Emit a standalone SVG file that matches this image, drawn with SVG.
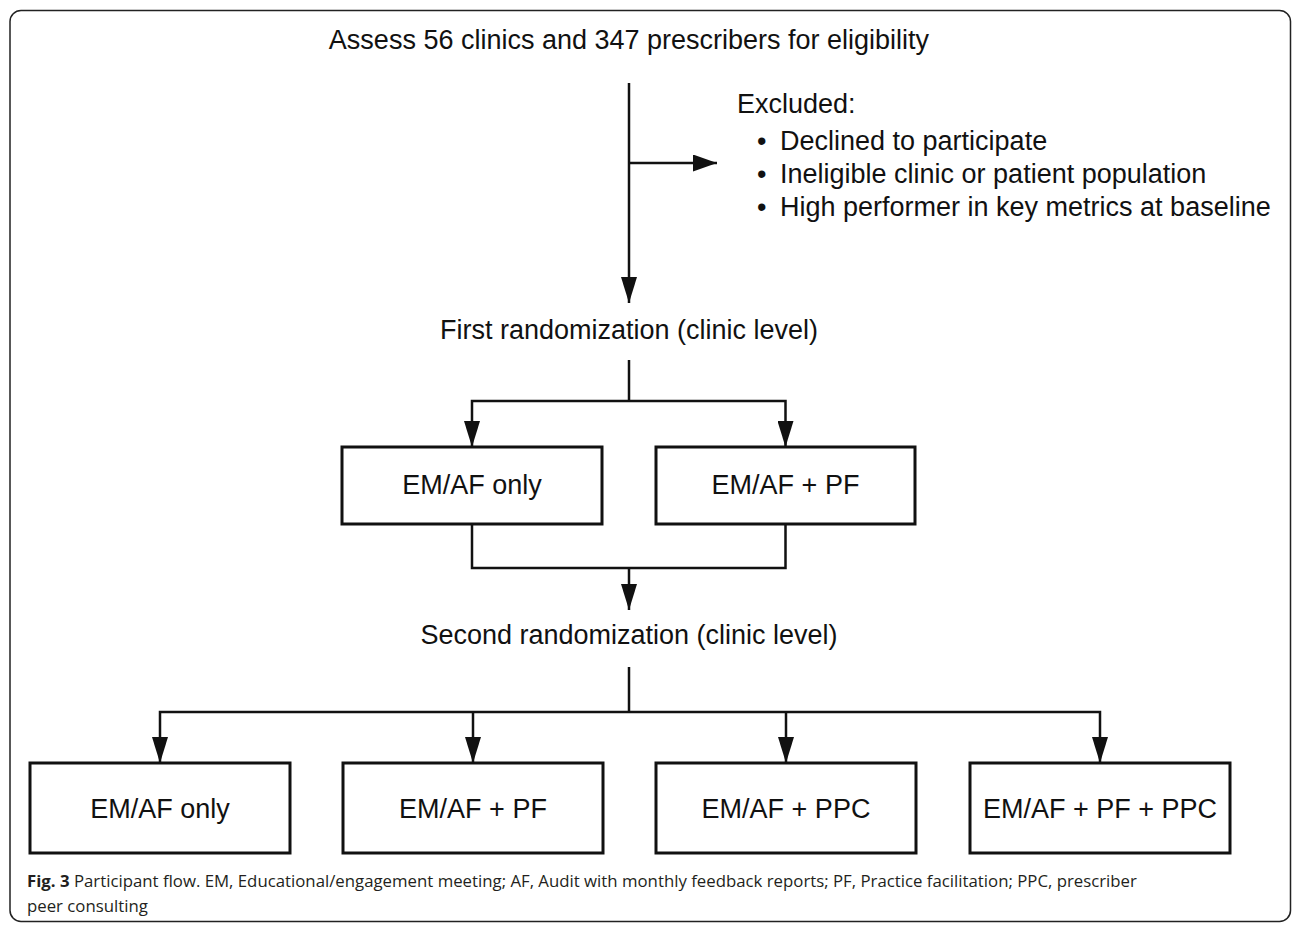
<svg xmlns="http://www.w3.org/2000/svg" width="1292" height="925" viewBox="0 0 1292 925">
<style>
.t{font-family:"Liberation Sans",Arial,sans-serif;font-size:27px;fill:#111}
.c{text-anchor:middle}
.box{fill:#fff;stroke:#111;stroke-width:3}
.ln{fill:none;stroke:#111;stroke-width:2.5}
.cap{font-family:"Open Sans","Noto Sans",sans-serif;font-size:16.8px;fill:#231f20}
</style>
<defs>
<marker id="ah" viewBox="0 0 26 16" refX="26" refY="8" markerWidth="26" markerHeight="16" markerUnits="userSpaceOnUse" orient="auto">
<path d="M0,0 L26,8 L0,16 z" fill="#111"/>
</marker>
<marker id="ahs" viewBox="0 0 24 17" refX="24" refY="8.5" markerWidth="24" markerHeight="17" markerUnits="userSpaceOnUse" orient="auto">
<path d="M0,0 L24,8.5 L0,17 z" fill="#111"/>
</marker>
</defs>
<rect x="0" y="0" width="1292" height="925" fill="#fff"/>
<rect x="10" y="10.5" width="1280.5" height="911" rx="11" ry="11" fill="none" stroke="#222" stroke-width="1.5"/>

<g id="assess"><text class="t c" x="629" y="49">Assess 56 clinics and 347 prescribers for eligibility</text></g>
<g id="excluded">
<text class="t" x="737" y="113">Excluded:</text>
<text class="t" x="757" y="150">•</text><text class="t" x="780" y="150">Declined to participate</text>
<text class="t" x="757" y="183">•</text><text class="t" x="780" y="183">Ineligible clinic or patient population</text>
<text class="t" x="757" y="216">•</text><text class="t" x="780" y="216">High performer in key metrics at baseline</text>
</g>
<g id="rand1"><text class="t c" x="629" y="339">First randomization (clinic level)</text></g>
<g id="l1a"><rect class="box" x="342" y="447" width="260" height="77"/><text class="t c" x="472" y="494">EM/AF only</text></g>
<g id="l1b"><rect class="box" x="656" y="447" width="259" height="77"/><text class="t c" x="785.5" y="494">EM/AF + PF</text></g>
<g id="rand2"><text class="t c" x="629" y="644">Second randomization (clinic level)</text></g>
<g id="l2a"><rect class="box" x="30" y="763" width="260" height="90"/><text class="t c" x="160" y="818">EM/AF only</text></g>
<g id="l2b"><rect class="box" x="343" y="763" width="260" height="90"/><text class="t c" x="473" y="818">EM/AF + PF</text></g>
<g id="l2c"><rect class="box" x="656" y="763" width="260" height="90"/><text class="t c" x="786" y="818">EM/AF + PPC</text></g>
<g id="l2d"><rect class="box" x="970" y="763" width="260" height="90"/><text class="t c" x="1100" y="818">EM/AF + PF + PPC</text></g>

<g id="connectors">
<path class="ln" d="M629,83 V303" marker-end="url(#ah)"/>
<path class="ln" d="M629,163 H717" marker-end="url(#ahs)"/>
<path class="ln" d="M629,360 V401"/>
<path class="ln" d="M629,401 H472 V447" marker-end="url(#ah)"/>
<path class="ln" d="M629,401 H785.5 V447" marker-end="url(#ah)"/>
<path class="ln" d="M472,524 V568 H785.5 V524"/>
<path class="ln" d="M629,568 V610" marker-end="url(#ah)"/>
<path class="ln" d="M629,667 V712"/>
<path class="ln" d="M629,712 H160 V763" marker-end="url(#ah)"/>
<path class="ln" d="M473,712 V763" marker-end="url(#ah)"/>
<path class="ln" d="M629,712 H1100 V763" marker-end="url(#ah)"/>
<path class="ln" d="M786,712 V763" marker-end="url(#ah)"/>
</g>

<g id="caption">
<text class="cap" x="27" y="887"><tspan font-weight="bold">Fig. 3</tspan> Participant flow. EM, Educational/engagement meeting; AF, Audit with monthly feedback reports; PF, Practice facilitation; PPC, prescriber</text>
<text class="cap" x="27" y="912">peer consulting</text>
</g>
</svg>
